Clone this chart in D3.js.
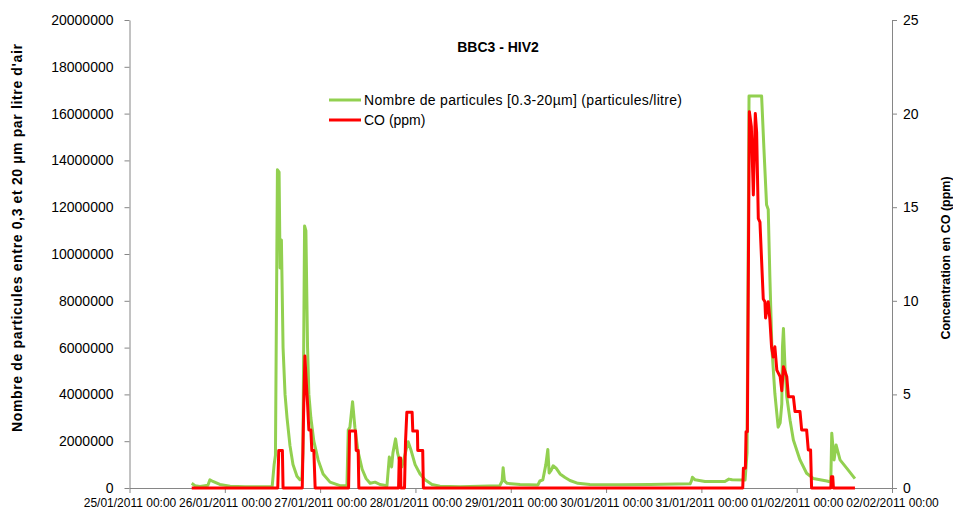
<!DOCTYPE html>
<html><head><meta charset="utf-8">
<script src="https://cdn.jsdelivr.net/npm/d3@7"></script>
<style>
html,body{margin:0;padding:0;background:#fff;}
svg{display:block;font-family:"Liberation Sans",Arial,sans-serif;}
</style></head>
<body><svg id="c" width="953" height="509"></svg>
<script>
// ---- data ----
const titleText = "BBC3 - HIV2";
const particlesLabel = "Nombre de particules [0.3-20µm] (particules/litre)";
const coLabel = "CO (ppm)";
const leftAxisTitle = "Nombre de particules entre 0,3 et 20 µm  par litre d'air";
const rightAxisTitle = "Concentration  en CO (ppm)";
const xStart = "25/01/2011 00:00";
const xEnd = "02/02/2011 00:00";
const leftTicks = [0,2000000,4000000,6000000,8000000,10000000,12000000,14000000,16000000,18000000,20000000];
const rightTicks = [0,5,10,15,20,25];

const particlesTime = [
"25/01/2011 15:40","25/01/2011 16:30","25/01/2011 17:45","25/01/2011 19:00","25/01/2011 19:45","25/01/2011 20:15","25/01/2011 21:00","25/01/2011 22:45",
"26/01/2011 01:20","26/01/2011 05:05","26/01/2011 11:55","26/01/2011 12:25","26/01/2011 12:45","26/01/2011 13:15","26/01/2011 13:40","26/01/2011 13:55",
"26/01/2011 14:15","26/01/2011 14:40","26/01/2011 15:10","26/01/2011 15:40","26/01/2011 16:25","26/01/2011 17:10","26/01/2011 18:10","26/01/2011 18:55",
"26/01/2011 19:25","26/01/2011 19:40","26/01/2011 20:05","26/01/2011 20:25","26/01/2011 20:50","26/01/2011 21:10","26/01/2011 21:40","26/01/2011 22:25",
"26/01/2011 23:30","27/01/2011 00:45","27/01/2011 02:30","27/01/2011 05:00","27/01/2011 06:45","27/01/2011 07:05","27/01/2011 07:30","27/01/2011 08:10",
"27/01/2011 08:45","27/01/2011 09:30","27/01/2011 10:35","27/01/2011 11:35","27/01/2011 12:35","27/01/2011 13:50","27/01/2011 15:05","27/01/2011 16:50",
"27/01/2011 17:25","27/01/2011 18:00","27/01/2011 18:20","27/01/2011 19:00","27/01/2011 19:30","27/01/2011 19:50","27/01/2011 20:35","27/01/2011 21:20",
"27/01/2011 22:10","27/01/2011 22:55","27/01/2011 23:55","28/01/2011 01:10","28/01/2011 02:25","28/01/2011 04:10","28/01/2011 06:10","28/01/2011 11:15",
"28/01/2011 21:15","28/01/2011 21:50","28/01/2011 22:05","28/01/2011 22:25","28/01/2011 23:05","29/01/2011 02:20","29/01/2011 06:50","29/01/2011 07:20",
"29/01/2011 08:05","29/01/2011 08:50","29/01/2011 09:20","29/01/2011 09:40","29/01/2011 10:10","29/01/2011 10:40","29/01/2011 11:25","29/01/2011 12:25",
"29/01/2011 13:40","29/01/2011 14:55","29/01/2011 16:55","29/01/2011 19:55","30/01/2011 03:30","30/01/2011 11:05","30/01/2011 21:10","30/01/2011 21:30",
"30/01/2011 21:45","30/01/2011 22:25","31/01/2011 00:55","31/01/2011 05:55","31/01/2011 06:55","31/01/2011 07:45","31/01/2011 11:00","31/01/2011 11:30",
"31/01/2011 12:00","31/01/2011 15:10","31/01/2011 15:45","31/01/2011 16:25","31/01/2011 16:50","31/01/2011 17:15","31/01/2011 17:45","31/01/2011 18:30",
"31/01/2011 19:20","31/01/2011 19:50","31/01/2011 20:15","31/01/2011 20:25","31/01/2011 20:40","31/01/2011 21:05","31/01/2011 21:30","31/01/2011 22:20",
"31/01/2011 23:10","01/02/2011 00:50","01/02/2011 02:30","01/02/2011 04:10","01/02/2011 07:35","01/02/2011 08:35","01/02/2011 08:50","01/02/2011 09:25",
"01/02/2011 09:55","01/02/2011 10:55","01/02/2011 12:35","01/02/2011 14:40"
];
const particlesValue = [
200000,100000,70000,100000,120000,350000,280000,150000,
80000,50000,50000,1000000,1400000,13600000,13500000,9400000,
10600000,6000000,4000000,3000000,1800000,1000000,500000,350000,
400000,1500000,11200000,11000000,6000000,4000000,3000000,2000000,
1200000,600000,250000,100000,100000,2480000,2600000,3690000,
2600000,1600000,800000,400000,200000,250000,150000,100000,
1320000,900000,1500000,2100000,1500000,1280000,900000,1400000,
1980000,1600000,1000000,600000,350000,150000,80000,50000,
100000,300000,870000,300000,200000,150000,130000,300000,
350000,1000000,1650000,640000,750000,950000,850000,600000,
450000,320000,200000,150000,140000,150000,180000,300000,
460000,350000,280000,280000,380000,350000,340000,1500000,
16750000,16750000,14500000,12100000,11900000,9000000,6000000,4050000,
2600000,2780000,3600000,6000000,6820000,5040000,3900000,2900000,
2050000,1200000,630000,410000,300000,260000,2340000,1200000,
1840000,1200000,850000,400000
];

const coTime = [
"25/01/2011 15:40","26/01/2011 13:20","26/01/2011 13:35","26/01/2011 14:30","26/01/2011 14:40",
"26/01/2011 19:30","26/01/2011 19:50","26/01/2011 20:10","26/01/2011 20:25","26/01/2011 20:50","26/01/2011 21:10","26/01/2011 21:40","26/01/2011 21:55","26/01/2011 22:25","26/01/2011 22:45",
"27/01/2011 07:10","27/01/2011 07:25","27/01/2011 08:55","27/01/2011 09:05","27/01/2011 09:35","27/01/2011 09:45",
"27/01/2011 19:45","27/01/2011 19:55","27/01/2011 20:15","27/01/2011 20:20",
"27/01/2011 21:15","27/01/2011 21:30","27/01/2011 21:50","27/01/2011 23:10","27/01/2011 23:20","28/01/2011 00:30","28/01/2011 00:35","28/01/2011 01:50","28/01/2011 02:00",
"31/01/2011 10:25","31/01/2011 10:35","31/01/2011 11:05","31/01/2011 11:15","31/01/2011 11:35","31/01/2011 12:05","31/01/2011 12:35","31/01/2011 13:05","31/01/2011 13:35","31/01/2011 13:55",
"31/01/2011 14:20","31/01/2011 14:45","31/01/2011 15:35","31/01/2011 16:00","31/01/2011 16:10","31/01/2011 16:50","31/01/2011 17:15","31/01/2011 17:40","31/01/2011 18:05","31/01/2011 18:30",
"31/01/2011 19:00","31/01/2011 19:50","31/01/2011 20:15","31/01/2011 20:40","31/01/2011 21:30","31/01/2011 21:55","31/01/2011 23:10","31/01/2011 23:35","01/02/2011 00:50","01/02/2011 01:15",
"01/02/2011 02:30","01/02/2011 02:55","01/02/2011 03:30","01/02/2011 03:45",
"01/02/2011 08:35","01/02/2011 08:45","01/02/2011 09:05","01/02/2011 09:15","01/02/2011 14:40"
];
const coValue = [
0,0,2.0,2.0,0,
0,4.0,7.05,6.0,4.5,3.1,3.1,2.0,2.0,0,
0,3.04,3.04,2.0,2.0,0,
0,1.6,1.6,0,
0,2.47,4.04,4.04,3.04,3.04,2.0,2.0,0,
0,1.05,1.05,3.0,3.0,20.1,19.3,15.65,20.0,19.0,
14.4,14.2,10.1,9.95,9.08,9.95,9.0,7.55,7.0,7.55,
6.3,5.95,5.2,6.48,5.95,4.88,4.88,4.08,4.08,3.1,
3.1,2.03,2.03,0,
0,0.6,0.6,0,0
];

// ---- drawing ----
const parse = d3.timeParse("%d/%m/%Y %H:%M");
const svg = d3.select("#c");
const L = 129.5, R = 892, T = 20, B = 488;
const AX = "#868686";

const x = d3.scaleTime().domain([parse(xStart), parse(xEnd)]).range([L, R]);
const yL = d3.scaleLinear().domain([0, 20000000]).range([B, T]);
const yR = d3.scaleLinear().domain([0, 25]).range([B, T]);

function styleAxis(g, fs){
  g.select(".domain").attr("stroke", AX).attr("stroke-width", 1);
  g.selectAll(".tick line").attr("stroke", AX);
  g.selectAll(".tick text").attr("fill", "#000").style("font-size", fs + "px").style("font-family", '"Liberation Sans",Arial,sans-serif');
}

const gL = svg.append("g").attr("transform", `translate(${L},0)`)
  .call(d3.axisLeft(yL).tickValues(leftTicks).tickFormat(d3.format("d")).tickSize(5).tickSizeOuter(0).tickPadding(11));
styleAxis(gL, 14);

const gR = svg.append("g").attr("transform", `translate(${R},0)`)
  .call(d3.axisRight(yR).tickValues(rightTicks).tickFormat(d3.format("d")).tickSize(5).tickSizeOuter(0).tickPadding(6));
styleAxis(gR, 14);

const gB = svg.append("g").attr("transform", `translate(0,${B})`)
  .call(d3.axisBottom(x).ticks(d3.timeDay.every(1)).tickFormat(d3.timeFormat("%d/%m/%Y %H:%M")).tickSize(5).tickSizeOuter(0).tickPadding(5));
styleAxis(gB, 12);

const pData = particlesTime.map((t,i)=>({t:parse(t), v:particlesValue[i]}));
const cData = coTime.map((t,i)=>({t:parse(t), v:coValue[i]}));

svg.append("path").datum(pData)
  .attr("fill","none").attr("stroke","#92D050").attr("stroke-width",3).attr("stroke-linejoin","round")
  .attr("d", d3.line().x(d=>x(d.t)).y(d=>yL(d.v)));
svg.append("path").datum(cData)
  .attr("fill","none").attr("stroke","#FF0000").attr("stroke-width",3).attr("stroke-linejoin","round")
  .attr("d", d3.line().x(d=>x(d.t)).y(d=>yR(d.v)));

// title
svg.append("text").attr("x", 498).attr("y", 52).attr("text-anchor","middle")
  .style("font-weight","bold").style("font-size","14px").text(titleText);

// legend
const leg = [{label: particlesLabel, color:"#92D050", y:100, w:318},{label: coLabel, color:"#FF0000", y:120, w:0}];
leg.forEach(d=>{
  svg.append("line").attr("x1",329).attr("x2",361).attr("y1",d.y).attr("y2",d.y)
    .attr("stroke",d.color).attr("stroke-width",3);
  const t = svg.append("text").attr("x",364).attr("y",d.y+5).style("font-size","14px").text(d.label);
  if (d.w) t.attr("textLength", d.w).attr("lengthAdjust","spacing");
});

// axis titles
svg.append("text").attr("transform","translate(22,238) rotate(-90)").attr("text-anchor","middle")
  .attr("textLength", 388).attr("lengthAdjust","spacing")
  .style("font-weight","bold").style("font-size","14px").text(leftAxisTitle);
svg.append("text").attr("transform","translate(950,258) rotate(-90)").attr("text-anchor","middle")
  .style("font-weight","bold").style("font-size","12.5px").text(rightAxisTitle);
</script></body></html>
